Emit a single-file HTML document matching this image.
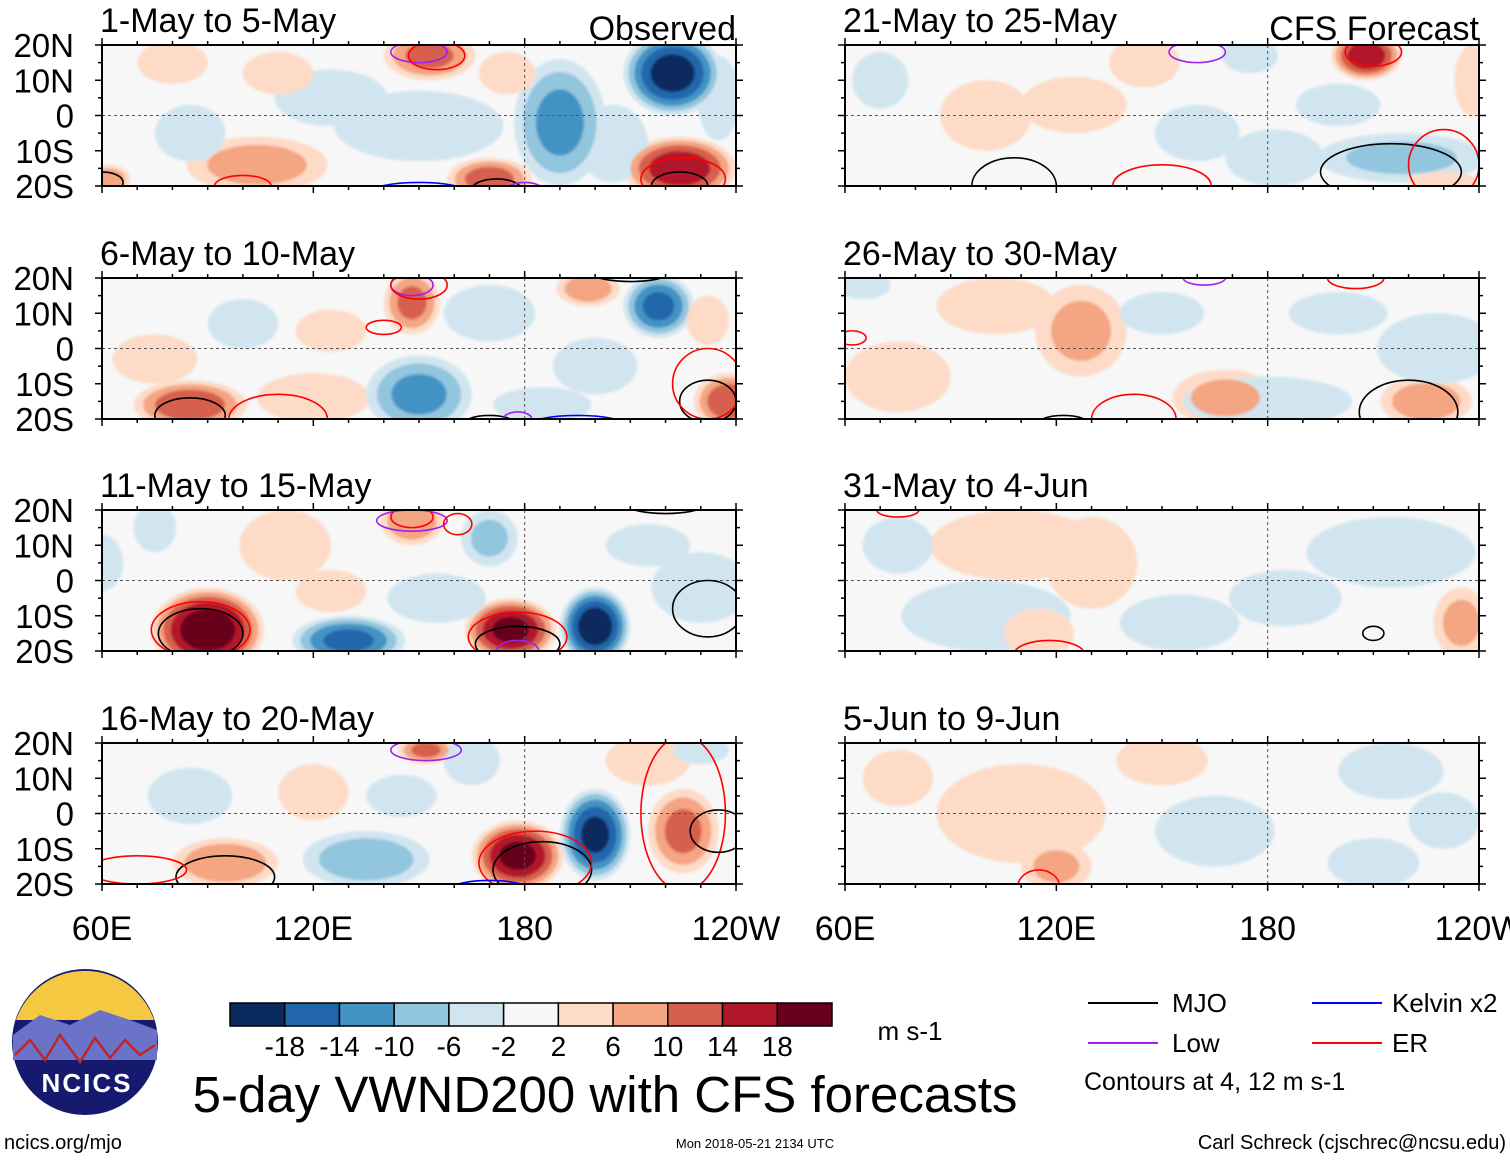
<!DOCTYPE html>
<html><head><meta charset="utf-8">
<style>
body{margin:0;background:#fff;font-family:"Liberation Sans",sans-serif;}
svg text{font-family:"Liberation Sans",sans-serif;}
</style></head>
<body>
<svg id="chart" width="1510" height="1158" viewBox="0 0 1510 1158" xmlns="http://www.w3.org/2000/svg">
<defs><filter id="soft" x="-5%" y="-5%" width="110%" height="110%"><feGaussianBlur stdDeviation="1.2"/></filter></defs>
<g id="panels"></g>
<g id="colorbar"></g>
<g>
  <circle cx="85" cy="1042" r="73" fill="#151a6e"/>
  <path d="M16,1020 A73,73 0 0 1 154,1020 Z" fill="#f5c842"/>
  <path d="M13,1035 L40,1015 L70,1025 L100,1010 L130,1020 L157,1030 L157,1060 L13,1060 Z" fill="#6a73c8"/>
  <path d="M15,1055 L30,1040 L45,1060 L60,1035 L80,1062 L95,1038 L110,1058 L125,1040 L140,1055 L155,1045" fill="none" stroke="#c0242a" stroke-width="2.5"/>
  <text x="87" y="1092" font-size="26" font-weight="bold" fill="#fff" text-anchor="middle" letter-spacing="2">NCICS</text>
</g>
<text x="605" y="1112" font-size="51" text-anchor="middle">5-day VWND200 with CFS forecasts</text>
<text x="910" y="1040" font-size="26" text-anchor="middle">m s-1</text>
<g font-size="26">
  <line x1="1088" y1="1003" x2="1158" y2="1003" stroke="#000" stroke-width="2"/><text x="1172" y="1012">MJO</text>
  <line x1="1088" y1="1043" x2="1158" y2="1043" stroke="#a020f0" stroke-width="2"/><text x="1172" y="1052">Low</text>
  <line x1="1312" y1="1003" x2="1382" y2="1003" stroke="#0000ff" stroke-width="2"/><text x="1392" y="1012">Kelvin x2</text>
  <line x1="1312" y1="1043" x2="1382" y2="1043" stroke="#ff0000" stroke-width="2"/><text x="1392" y="1052">ER</text>
  <text x="1084" y="1090" font-size="25">Contours at 4, 12 m s-1</text>
</g>
<text x="4" y="1149" font-size="20">ncics.org/mjo</text>
<text x="755" y="1148" font-size="13" text-anchor="middle">Mon 2018-05-21 2134 UTC</text>
<text x="1506" y="1149" font-size="20" text-anchor="end">Carl Schreck (cjschrec@ncsu.edu)</text>
</svg>
<script>
const panelTitles=["1-May to 5-May","6-May to 10-May","11-May to 15-May","16-May to 20-May","21-May to 25-May","26-May to 30-May","31-May to 4-Jun","5-Jun to 9-Jun"];
const yTicks=[20,10,0,-10,-20];
const yTickLabels=["20N","10N","0","10S","20S"];
const xTicks=[60,120,180,240];
const xTickLabels=["60E","120E","180","120W"];
const cbLevels=[-18,-14,-10,-6,-2,2,6,10,14,18];
const cbColors=["#0b2b5e","#2166ac","#4393c3","#92c5de","#d1e5f0","#f7f7f7","#fddbc7","#f4a582","#d6604d","#b2182b","#67001f"];
// anomaly blobs: [lon, lat, value, lonRadius, latRadius]
const blobs0=[[222,12,-20,14,12],[190,-2,-11,13,18],[150,-3,-5,24,10],[125,5,-3,16,8],[153,17,11,13,7],[224,-15,17,16,9],[104,-14,8,20,8],[170,-18,12,12,6],[85,-5,-4,10,8],[205,-8,-6,10,11],[62,-18,9,6,4],[80,15,3,10,6],[110,12,3,10,6],[235,5,-4,6,12],[175,12,4,8,6]];
const blobs1=[[218,12,-15,10,9],[148,13,11,8,9],[198,17,9,9,5],[85,-16,13,16,7],[120,-14,6,16,7],[150,-13,-11,15,11],[238,-15,13,10,8],[170,10,-6,13,8],[100,7,-4,10,7],[232,8,6,6,7],[75,-3,3,12,7],[200,-5,-4,12,8],[125,5,3,10,6],[185,-16,-3,14,5]];
const blobs2=[[90,-14,21,16,12],[148,17,10,9,7],[130,-17,-15,16,7],[200,-13,-21,10,11],[176,-14,19,13,9],[170,12,-7,8,8],[75,15,-6,6,7],[112,10,5,13,10],[230,-2,-6,14,10],[155,-5,-4,14,7],[215,10,-3,12,6],[125,-3,4,10,6],[60,5,-3,6,8]];
const blobs3=[[178,-12,19,13,10],[200,-6,-19,10,13],[225,-5,11,10,12],[152,18,11,8,4],[95,-14,10,15,7],[135,-13,-9,18,8],[215,15,6,12,7],[165,15,-6,8,7],[85,5,-4,12,8],[120,6,4,10,8],[145,5,-3,10,6],[230,18,-3,8,4]];
const blobs4=[[208,17,17,10,7],[182,-12,-6,14,8],[218,-12,-7,24,7],[145,15,6,10,7],[125,3,5,15,8],[100,0,5,13,10],[175,17,-5,8,5],[238,10,6,5,10],[70,10,-4,8,8],[160,-5,-3,12,8],[200,3,-3,12,6],[230,-19,4,10,3]];
const blobs5=[[103,12,5,17,8],[127,5,7,13,13],[168,-14,7,15,8],[225,-15,9,13,7],[180,-15,-6,24,7],[228,0,-5,17,10],[75,-8,5,15,10],[65,18,-4,8,4],[150,10,-3,12,6],[200,10,-3,14,6]];
const blobs6=[[108,10,5,24,10],[130,5,5,13,13],[100,-10,-5,24,10],[155,-12,-6,17,8],[115,-15,6,10,7],[235,-12,7,8,10],[215,8,-4,24,10],[75,10,-3,10,8],[185,-5,-3,16,8]];
const blobs7=[[110,0,5,24,14],[120,-15,7,10,7],[165,-5,-4,17,10],[210,-14,-5,13,7],[215,12,-4,15,8],[150,15,4,13,7],[75,10,3,10,8],[230,-2,-3,10,8]];
// contours: [type, lon, lat, lonRadius, latRadius]
const conts0=[["mjo",224,-20,8,4],["er",225,-18,12,6],["low",150,18,8,3],["er",155,17,8,4],["kelvin",150,-22,14,3],["mjo",172,-21,7,3],["mjo",60,-19,6,3],["er",100,-20,8,3],["low",180,-21,5,2]];
const conts1=[["mjo",85,-19,10,5],["er",110,-20,14,7],["low",148,18,6,3],["er",150,18,8,4],["er",140,6,5,2],["mjo",210,21,10,2],["mjo",232,-15,8,6],["er",232,-10,10,10],["kelvin",195,-22,14,3],["mjo",170,-22,8,3],["low",178,-20,4,2]];
const conts2=[["mjo",88,-15,12,7],["er",88,-14,14,8],["er",148,18,6,3],["low",148,17,10,3],["er",161,16,4,3],["mjo",178,-18,12,5],["er",178,-16,14,7],["low",178,-20,6,3],["mjo",232,-8,10,8],["mjo",220,21,10,2]];
const conts3=[["mjo",95,-18,14,6],["er",70,-16,14,4],["mjo",185,-16,14,8],["er",183,-14,16,9],["low",152,18,10,3],["er",225,0,12,22],["mjo",235,-5,8,6],["kelvin",170,-21,10,2]];
const conts4=[["mjo",108,-20,12,8],["er",150,-20,14,6],["mjo",215,-16,20,8],["er",230,-14,10,10],["low",160,18,8,3],["er",210,18,8,4],["low",185,-22,5,2]];
const conts5=[["mjo",122,-22,8,3],["er",142,-20,12,7],["mjo",220,-18,14,9],["low",162,20,6,2],["er",205,20,8,3],["er",62,3,4,2]];
const conts6=[["er",118,-21,10,4],["mjo",210,-15,3,2],["er",75,20,6,2]];
const conts7=[["er",115,-21,6,5]];
const allBlobs=[blobs0,blobs1,blobs2,blobs3,blobs4,blobs5,blobs6,blobs7];
const allConts=[conts0,conts1,conts2,conts3,conts4,conts5,conts6,conts7];
const contColor={mjo:"#000",er:"#ff0000",low:"#a020f0",kelvin:"#0000ff"};
const NS="http://www.w3.org/2000/svg";
const colX=[102,845], W=634, rowY=[45,278,510,743], H=141;
function mk(tag,attrs,parent){const e=document.createElementNS(NS,tag);for(const k in attrs)e.setAttribute(k,attrs[k]);parent.appendChild(e);return e;}
const root=document.getElementById("panels");
for(let p=0;p<8;p++){
  const x0=colX[Math.floor(p/4)], y0=rowY[p%4];
  const xs=lon=>x0+(lon-60)/180*W, ys=lat=>y0+(20-lat)/40*H;
  const g=mk("g",{},root);
  
  
  const cp=mk("clipPath",{id:"cp"+p},g);
  mk("rect",{x:x0,y:y0,width:W,height:H},cp);
  mk("rect",{x:x0,y:y0,width:W,height:H,fill:"#f7f7f7"},g);
  const fg=mk("g",{"clip-path":"url(#cp"+p+")"},g);
  const hg=mk("g",{filter:"url(#soft)"},fg);
  const th=[2,6,10,14,18];
  for(let li=0;li<5;li++){
    for(const b of allBlobs[p]){
      const [lon,lat,v,rl,rt]=b, a=Math.abs(v), t=th[li];
      if(a<=t) continue;
      const f=Math.sqrt(1-(t-2)/a);
      const col=v>0?cbColors[6+li]:cbColors[4-li];
      const e=mk("ellipse",{cx:xs(lon),cy:ys(lat),rx:rl*f/180*W,ry:rt*f/40*H,fill:col},hg);
      
      
    }
  }
  mk("line",{x1:x0,x2:x0+W,y1:ys(0),y2:ys(0),stroke:"#555","stroke-width":1,"stroke-dasharray":"3,3"},fg);
  mk("line",{x1:xs(180),x2:xs(180),y1:y0,y2:y0+H,stroke:"#555","stroke-width":1,"stroke-dasharray":"3,3"},fg);
  for(const c of allConts[p]){
    const [ty,lon,lat,rl,rt]=c;
    const e=mk("ellipse",{cx:xs(lon),cy:ys(lat),rx:rl/180*W,ry:rt/40*H,fill:"none",stroke:contColor[ty],"stroke-width":1.6},fg);
    
    
  }
  mk("rect",{x:x0,y:y0,width:W,height:H,fill:"none",stroke:"#000","stroke-width":2},g);
  for(let lon=60;lon<=240;lon+=10){const len=(lon%60===0)?7:4;
    mk("line",{x1:xs(lon),x2:xs(lon),y1:y0,y2:y0-len,stroke:"#000","stroke-width":1.5},g);
    mk("line",{x1:xs(lon),x2:xs(lon),y1:y0+H,y2:y0+H+len,stroke:"#000","stroke-width":1.5},g);}
  for(let lat=-20;lat<=20;lat+=5){const len=(lat%10===0)?7:4;
    mk("line",{x1:x0,x2:x0-len,y1:ys(lat),y2:ys(lat),stroke:"#000","stroke-width":1.5},g);
    mk("line",{x1:x0+W,x2:x0+W+len,y1:ys(lat),y2:ys(lat),stroke:"#000","stroke-width":1.5},g);}
  const t=mk("text",{x:x0-2,y:y0-13,"font-size":34},g);t.textContent=panelTitles[p];
  
  
  if(p===0||p===4){const s=mk("text",{x:x0+W,y:y0-5,"font-size":34,"text-anchor":"end"},g);s.textContent=p===0?"Observed":"CFS Forecast";
    
    }
  if(p<4){yTicks.forEach((lat,i)=>{const l=mk("text",{x:74,y:ys(lat)+12,"font-size":33,"text-anchor":"end"},g);l.textContent=yTickLabels[i];
    
    });}
  if(p%4===3){xTicks.forEach((lon,i)=>{const l=mk("text",{x:xs(lon),y:y0+H+56,"font-size":34,"text-anchor":"middle"},g);l.textContent=xTickLabels[i];
    
    });}
}
const cb=document.getElementById("colorbar");
const bx=230,bw=602,by=1003,bh=23,n=cbColors.length;
cbColors.forEach((c,i)=>{const r=mk("rect",{x:bx+i*bw/n,y:by,width:bw/n,height:bh,fill:c,stroke:"#000","stroke-width":1.5},cb);
  
  });
cbLevels.forEach((v,i)=>{const t=mk("text",{x:bx+(i+1)*bw/n,y:by+bh+30,"font-size":28,"text-anchor":"middle"},cb);t.textContent=v;
  
  });
</script>
</body></html>
